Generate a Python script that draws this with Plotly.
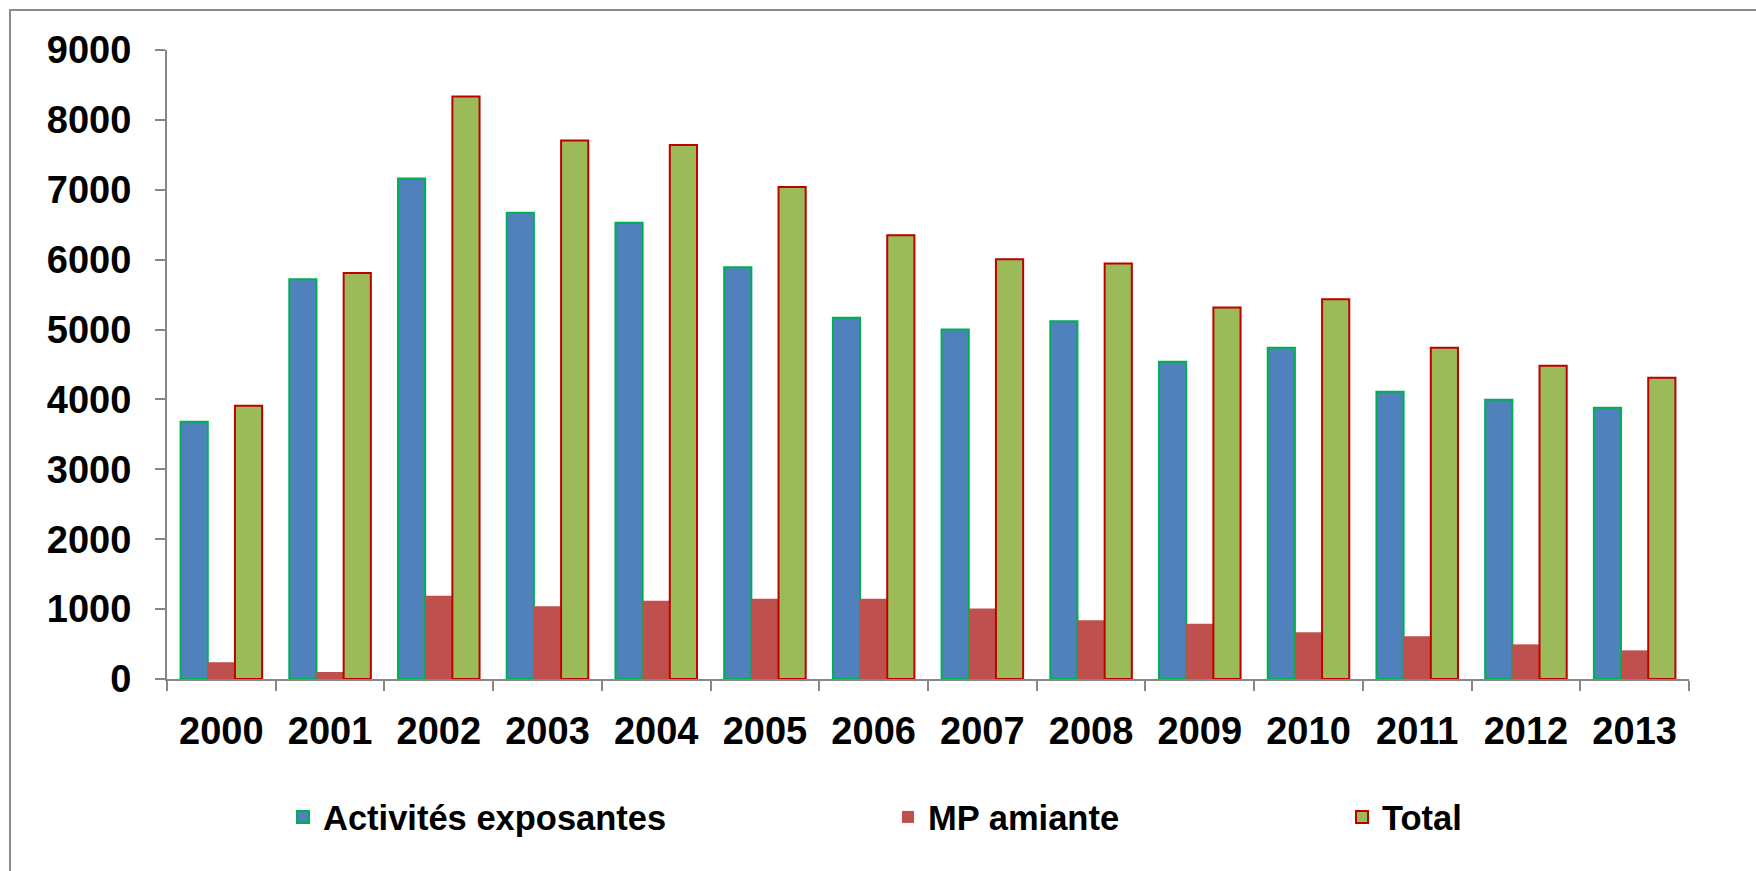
import plotly.graph_objects as go

years = ["2000", "2001", "2002", "2003", "2004", "2005", "2006",
         "2007", "2008", "2009", "2010", "2011", "2012", "2013"]
activites = [3680, 5720, 7160, 6670, 6530, 5890, 5170,
             5000, 5120, 4540, 4740, 4110, 3995, 3880]
mp_amiante = [240, 100, 1190, 1040, 1120, 1150, 1150,
              1010, 840, 790, 670, 610, 496, 410]
total = [3910, 5810, 8335, 7705, 7640, 7040, 6350,
         6005, 5945, 5315, 5435, 4740, 4482, 4310]
y_ticks = [0, 1000, 2000, 3000, 4000, 5000, 6000, 7000, 8000, 9000]

FONT = "Liberation Sans, Arial, sans-serif"
AX = "#868686"

fig = go.Figure()
fig.add_trace(go.Bar(x=years, y=activites, name="Activités exposantes",
                     marker=dict(color="#4F81BD", line=dict(color="#00B050", width=2)),
                     legend="legend"))
fig.add_trace(go.Bar(x=years, y=mp_amiante, name="MP amiante",
                     marker=dict(color="#C0504D", line=dict(width=0)),
                     legend="legend2"))
fig.add_trace(go.Bar(x=years, y=total, name="Total",
                     marker=dict(color="#9BBB59", line=dict(color="#C00000", width=2)),
                     legend="legend3"))

W, H = 1756, 871
L, R, T, B = 167, 67, 50, 192
pw, ph = W - L - R, H - T - B

def px(x):
    return (x - L) / pw

def py(y):
    return (H - B - y) / ph

leg_font = dict(family=FONT, size=34.5, color="black", weight="bold")
common = dict(orientation="h", yanchor="middle", xanchor="left",
              font=leg_font, bgcolor="rgba(0,0,0,0)", borderwidth=0)

fig.update_layout(
    width=W, height=H,
    margin=dict(l=L, r=R, t=T, b=B, pad=0),
    paper_bgcolor="white", plot_bgcolor="white",
    barmode="group", bargap=0.25, bargroupgap=0,
    showlegend=True,
    legend=dict(x=px(283), y=py(817), **common),
    legend2=dict(x=px(888), y=py(817), **common),
    legend3=dict(x=px(1342), y=py(817), **common),
    xaxis=dict(
        type="category", showgrid=False, showline=True, linecolor=AX, linewidth=2,
        ticks="outside", tickson="boundaries", ticklen=10, tickwidth=2, tickcolor=AX,
        tickfont=dict(family=FONT, size=38, color="black", weight="bold"),
        ticklabelstandoff=17,
    ),
    yaxis=dict(
        range=[0, 9000], tickvals=y_ticks, ticktext=[str(v) for v in y_ticks],
        showgrid=False, zeroline=False, showline=True, linecolor=AX, linewidth=2,
        ticks="outside", ticklen=10, tickwidth=2, tickcolor=AX,
        tickfont=dict(family=FONT, size=38, color="black", weight="bold"),
        ticklabelstandoff=16,
    ),
    shapes=[dict(type="rect", xref="paper", yref="paper",
                 x0=px(10), x1=px(W + 20), y0=py(H + 20), y1=py(10),
                 line=dict(color="#8C8C8C", width=2), fillcolor="rgba(0,0,0,0)",
                 layer="below")],
)

fig.write_html("out.html")
